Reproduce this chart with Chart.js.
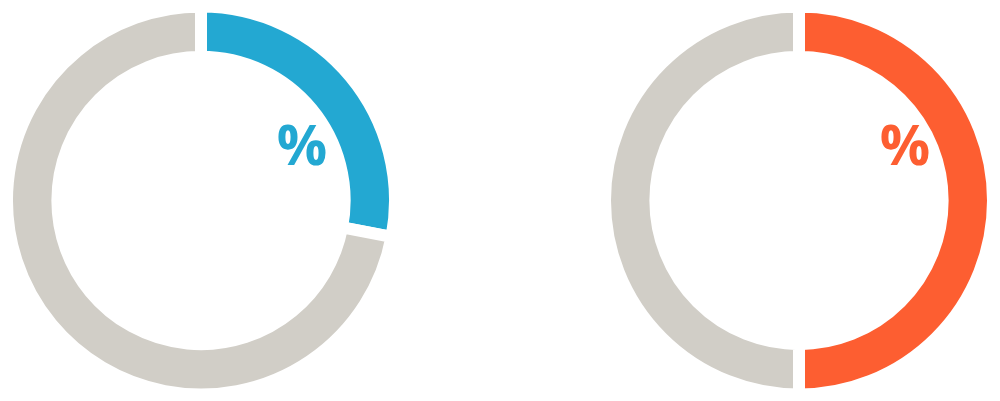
<!DOCTYPE html>
<html>
<head>
<meta charset="utf-8">
<script src="https://cdn.jsdelivr.net/npm/chart.js@4/dist/chart.umd.min.js"></script>
<style>
  html, body { margin: 0; padding: 0; background: #fff; }
  body { width: 1000px; height: 401px; position: relative; overflow: hidden; }
  .box { position: absolute; top: 0; width: 402px; height: 401px; }
  #box1 { left: 0; }
  #box2 { left: 598px; }
</style>
</head>
<body>
<div class="box" id="box1"><canvas id="chart1"></canvas></div>
<div class="box" id="box2"><canvas id="chart2"></canvas></div>
<script>
// Values (percent) for each gauge
const labels = ['value', 'rest'];
const leftValues = [28, 72];
const rightValues = [50, 50];
const leftColors = ['#23a8d2', '#d1cec7'];
const rightColors = ['#fd5e31', '#d1cec7'];
const percentText = '%';

// Draws the "%" label inside the ring
const percentLabel = {
    id: 'percentLabel',
    afterDraw(chart, args, opts) {
        const meta = chart.getDatasetMeta(0);
        const arc = meta.data[0];
        const ctx = chart.ctx;
        ctx.save();
        ctx.fillStyle = opts.color;
        ctx.font = 'bold 56px "Open Sans"';
        ctx.textAlign = 'center';
        ctx.textBaseline = 'alphabetic';
        ctx.fillText(percentText, arc.x + opts.dx, arc.y + opts.dy);
        ctx.restore();
    }
};

function makeGauge(id, values, colors, dx) {
    const ctx = document.getElementById(id).getContext('2d');
    return new Chart(ctx, {
        type: 'doughnut',
        data: {
            labels: labels,
            datasets: [{
                data: values,
                backgroundColor: colors,
                borderColor: '#ffffff',
                borderWidth: 12,
                hoverOffset: 0
            }]
        },
        options: {
            responsive: true,
            maintainAspectRatio: false,
            animation: false,
            radius: 194,
            cutout: 144,
            layout: { padding: 0 },
            plugins: {
                legend: { display: false },
                tooltip: { enabled: false },
                percentLabel: { color: colors[0], dx: dx, dy: -36 }
            }
        },
        plugins: [percentLabel]
    });
}

makeGauge('chart1', leftValues, leftColors, 101);
makeGauge('chart2', rightValues, rightColors, 106);
</script>
</body>
</html>
